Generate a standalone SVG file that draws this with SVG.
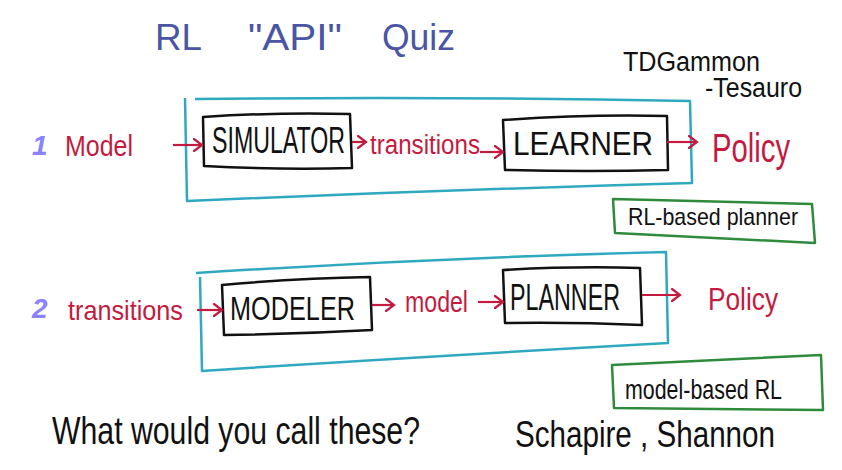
<svg xmlns="http://www.w3.org/2000/svg" width="842" height="470" viewBox="0 0 842 470">
<style>
text{font-family:"Liberation Sans","DejaVu Sans",sans-serif}
.red{fill:#c41a40}
.blk{fill:#111}
.box{fill:none;stroke:#111;stroke-width:2.5;stroke-linejoin:round}
.cyan{fill:none;stroke:#2fa9c0;stroke-width:2.5;stroke-linejoin:round}
.green{fill:none;stroke:#2e8b3c;stroke-width:2.5;stroke-linejoin:round}
.arr{fill:none;stroke:#c41a40;stroke-width:2.2;marker-end:url(#head)}
.num{fill:#8a82ff;font-weight:bold;font-style:italic}
</style>
<defs>
<marker id="head" markerUnits="userSpaceOnUse" markerWidth="12" markerHeight="14" refX="9" refY="7" orient="auto">
<path d="M1,1 L9,7 L1,13" fill="none" stroke="#c41a40" stroke-width="2.2" stroke-linecap="round"/>
</marker>
</defs>
<rect width="842" height="470" fill="#fff"/>

<g id="title">
<text x="155" y="50" font-size="36" fill="#4a55a5" textLength="47" lengthAdjust="spacingAndGlyphs">RL</text>
<text x="248" y="50" font-size="36" fill="#4a55a5" textLength="94" lengthAdjust="spacingAndGlyphs">"API"</text>
<text x="382" y="50" font-size="36" fill="#4a55a5" textLength="73" lengthAdjust="spacingAndGlyphs">Quiz</text>
</g>

<g id="note-tdgammon">
<text x="623" y="71" font-size="27" class="blk" textLength="137" lengthAdjust="spacingAndGlyphs">TDGammon</text>
<text x="705" y="97" font-size="27" class="blk" textLength="97" lengthAdjust="spacingAndGlyphs">-Tesauro</text>
</g>

<g id="group1">
<path class="cyan" d="M195,99 Q440,96 690,101 L692,183 Q440,190 187,201 L185,98"/>
</g>
<g id="group2">
<path class="cyan" d="M196,273 Q430,258 666,252 L668,343 Q430,356 202,371 L200,277"/>
</g>

<g id="label-1">
<text x="32" y="155" font-size="28" class="num">1</text>
</g>
<g id="input-model">
<text x="65" y="156" font-size="30" class="red" textLength="68" lengthAdjust="spacingAndGlyphs">Model</text>
</g>
<g id="simulator">
<path class="box" d="M203,117 Q280,112 350,114 L352,168 Q280,170 204,166 Z"/>
<text transform="translate(212,153) scale(1,1.6)" x="0" y="0" font-size="23" class="blk" textLength="133" lengthAdjust="spacingAndGlyphs">SIMULATOR</text>
</g>
<g id="transitions-1">
<text x="370" y="154" font-size="27" class="red" textLength="110" lengthAdjust="spacingAndGlyphs">transitions</text>
</g>
<g id="learner">
<path class="box" d="M503,120 Q590,114 667,116 L668,170 Q590,172 505,170 Z"/>
<text x="513" y="155" font-size="34" class="blk" textLength="140" lengthAdjust="spacingAndGlyphs">LEARNER</text>
</g>
<g id="policy-1">
<text x="712" y="162" font-size="40" class="red" textLength="78" lengthAdjust="spacingAndGlyphs">Policy</text>
</g>
<g id="rl-based-planner">
<path class="green" d="M613,199 L812,204 L815,243 L615,233 Z"/>
<text x="628" y="225" font-size="24" class="blk" textLength="170" lengthAdjust="spacingAndGlyphs">RL-based planner</text>
</g>

<g id="label-2">
<text x="32" y="318" font-size="28" class="num">2</text>
</g>
<g id="input-transitions">
<text x="68" y="320" font-size="28" class="red" textLength="115" lengthAdjust="spacingAndGlyphs">transitions</text>
</g>
<g id="modeler">
<path class="box" d="M222,285 Q300,278 370,277 L372,330 Q300,334 224,335 Z"/>
<text x="230" y="320" font-size="34" class="blk" textLength="125" lengthAdjust="spacingAndGlyphs">MODELER</text>
</g>
<g id="model-2">
<text x="405" y="312" font-size="29" class="red" textLength="63" lengthAdjust="spacingAndGlyphs">model</text>
</g>
<g id="planner">
<path class="box" d="M503,270 Q575,266 640,268 L642,325 Q575,322 505,323 Z"/>
<text x="510" y="310" font-size="37" class="blk" textLength="110" lengthAdjust="spacingAndGlyphs">PLANNER</text>
</g>
<g id="policy-2">
<text x="708" y="310" font-size="32" class="red" textLength="70" lengthAdjust="spacingAndGlyphs">Policy</text>
</g>
<g id="model-based-rl">
<path class="green" d="M612,365 L821,355 L823,410 L614,408 Z"/>
<text x="625" y="399" font-size="27" class="blk" textLength="157" lengthAdjust="spacingAndGlyphs">model-based RL</text>
</g>

<g id="question">
<text x="52" y="444" font-size="38" class="blk" textLength="368" lengthAdjust="spacingAndGlyphs">What would you call these?</text>
</g>
<g id="names">
<text x="515" y="447" font-size="36" class="blk" textLength="260" lengthAdjust="spacingAndGlyphs">Schapire , Shannon</text>
</g>

<g id="connectors">
<path class="arr" d="M173,145 L202,145"/>
<path class="arr" d="M352,142 L366,142"/>
<path class="arr" d="M480,152 L503,152"/>
<path class="arr" d="M667,142 L697,142"/>
<path class="arr" d="M197,310 L222,310"/>
<path class="arr" d="M372,305 L394,305"/>
<path class="arr" d="M478,302 L503,302"/>
<path class="arr" d="M642,295 L680,295"/>
</g>
</svg>
